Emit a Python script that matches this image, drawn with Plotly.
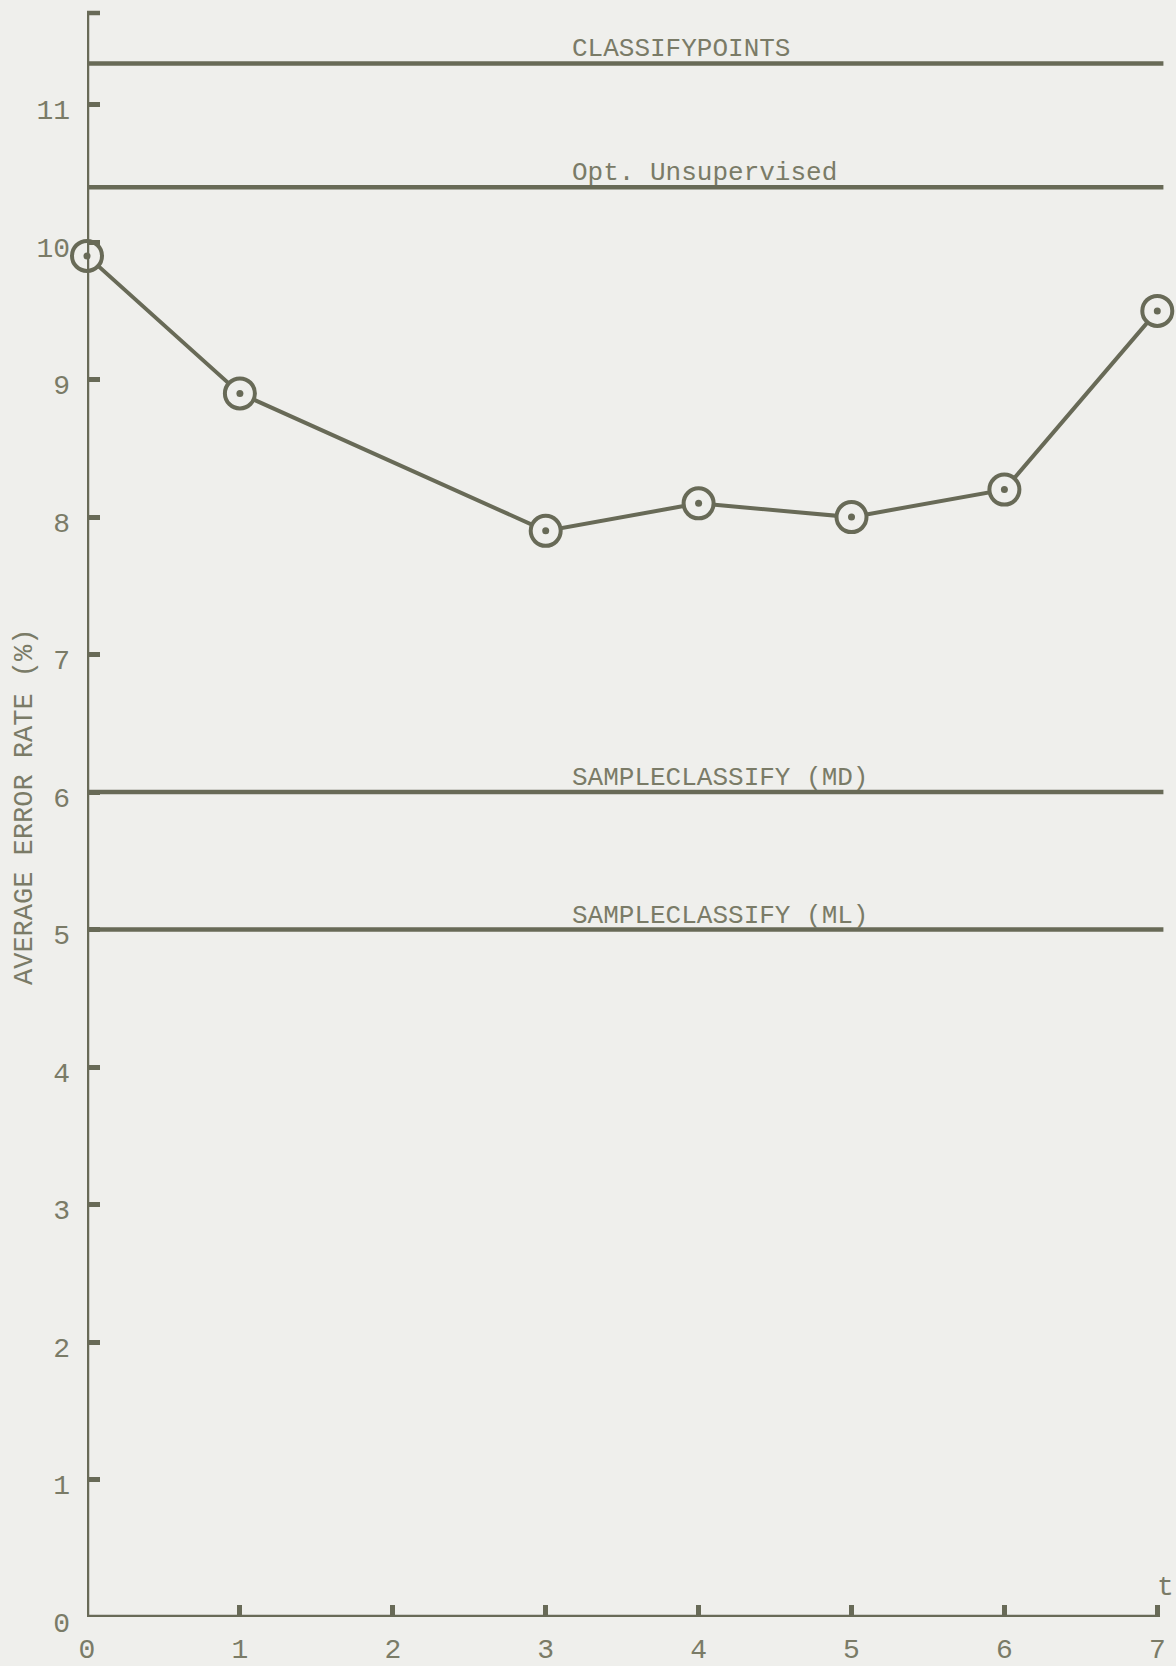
import plotly.graph_objects as go

# Measured average error rate (%) against t
t_values = [0, 1, 3, 4, 5, 6, 7]
error_rate = [9.9, 8.9, 7.9, 8.1, 8.0, 8.2, 9.5]

# Constant reference levels for the other classifiers
baseline_names = ["CLASSIFYPOINTS", "Opt. Unsupervised",
                  "SAMPLECLASSIFY (MD)", "SAMPLECLASSIFY (ML)"]
baseline_rates = [11.3, 10.4, 6.0, 5.0]

x_tick_vals = [0, 1, 2, 3, 4, 5, 6, 7]
x_tick_text = ["0", "1", "2", "3", "4", "5", "6", "7"]
y_tick_vals = [0, 1, 2, 3, 4, 5, 6, 7, 8, 9, 10, 11]
y_tick_text = ["0", "1", "2", "3", "4", "5", "6", "7", "8", "9", "10", "11"]

# Styling
W, H = 1176, 1666
M_L, M_R, M_T, M_B = 87, 0, 13, 43
PLOT_W = W - M_L - M_R
PLOT_H = H - M_T - M_B
PX_PER_T = 152.9
PX_PER_PCT = 138.0
INK = "#686a57"
TEXT = "#7a7b67"
PAPER = "#efefec"
FONT = "Liberation Mono"
LW = 4.5
LINE_END = 7.04           # right end of the reference lines, in t units
LABEL_X = 3.16            # left edge of the reference-line captions

fig = go.Figure()

# Horizontal reference levels
for name, rate in zip(baseline_names, baseline_rates):
    fig.add_trace(go.Scatter(
        x=[0, LINE_END], y=[rate, rate], mode="lines",
        line=dict(color=INK, width=LW), hoverinfo="skip", showlegend=False,
    ))
    fig.add_annotation(
        x=LABEL_X, y=rate, xref="x", yref="y", text=name, showarrow=False,
        xanchor="left", yanchor="bottom", yshift=-3,
        font=dict(family=FONT, size=26, color=TEXT),
    )

# Error-rate curve: open circles joined by straight segments
fig.add_trace(go.Scatter(
    x=t_values, y=error_rate, mode="lines+markers",
    line=dict(color=INK, width=4),
    marker=dict(symbol="circle", size=30, color=PAPER,
                line=dict(color=INK, width=4)),
    cliponaxis=False, showlegend=False,
))
# centre dots inside the circles
fig.add_trace(go.Scatter(
    x=t_values, y=error_rate, mode="markers",
    marker=dict(symbol="circle", size=7, color=INK),
    cliponaxis=False, showlegend=False, hoverinfo="skip",
))

# Axis lines
fig.add_shape(type="line", xref="x", yref="y", x0=0, x1=7, y0=0, y1=0,
              line=dict(color=INK, width=LW))
fig.add_shape(type="line", xref="x", yref="paper", x0=0, x1=0, y0=0, y1=1,
              line=dict(color=INK, width=LW))
# small hook at the top of the vertical axis
fig.add_shape(type="line", xref="x", yref="paper", x0=0, x1=13 / PX_PER_T,
              y0=1, y1=1, line=dict(color=INK, width=LW))

# Axis captions
fig.add_annotation(
    x=7, y=0, xref="x", yref="y", text="t", showarrow=False,
    xanchor="center", yanchor="middle", yshift=30, xshift=8,
    font=dict(family=FONT, size=28, color=TEXT),
)
fig.add_annotation(
    x=(25 - M_L) / PLOT_W, y=1 - (810 - M_T) / PLOT_H, xref="paper", yref="paper",
    text="AVERAGE ERROR RATE (%)", textangle=-90, showarrow=False,
    xanchor="center", yanchor="middle",
    font=dict(family=FONT, size=27, color=TEXT),
)

fig.update_layout(
    width=W, height=H,
    margin=dict(l=M_L, r=M_R, t=M_T, b=M_B, pad=0),
    paper_bgcolor=PAPER, plot_bgcolor=PAPER,
    showlegend=False,
    xaxis=dict(
        range=[0, PLOT_W / PX_PER_T],
        tickvals=x_tick_vals, ticktext=x_tick_text,
        ticks="inside", ticklen=12, tickwidth=LW, tickcolor=INK,
        showline=False, showgrid=False, zeroline=False,
        tickfont=dict(family=FONT, size=28, color=TEXT),
        ticklabelstandoff=12,
    ),
    yaxis=dict(
        range=[0, PLOT_H / PX_PER_PCT],
        tickvals=y_tick_vals, ticktext=y_tick_text,
        ticks="inside", ticklen=13, tickwidth=LW, tickcolor=INK,
        showline=False, showgrid=False, zeroline=False,
        tickfont=dict(family=FONT, size=28, color=TEXT),
        ticklabelstandoff=16, ticklabelshift=5,
    ),
)

fig.write_html("out.html", config={"displayModeBar": False})
